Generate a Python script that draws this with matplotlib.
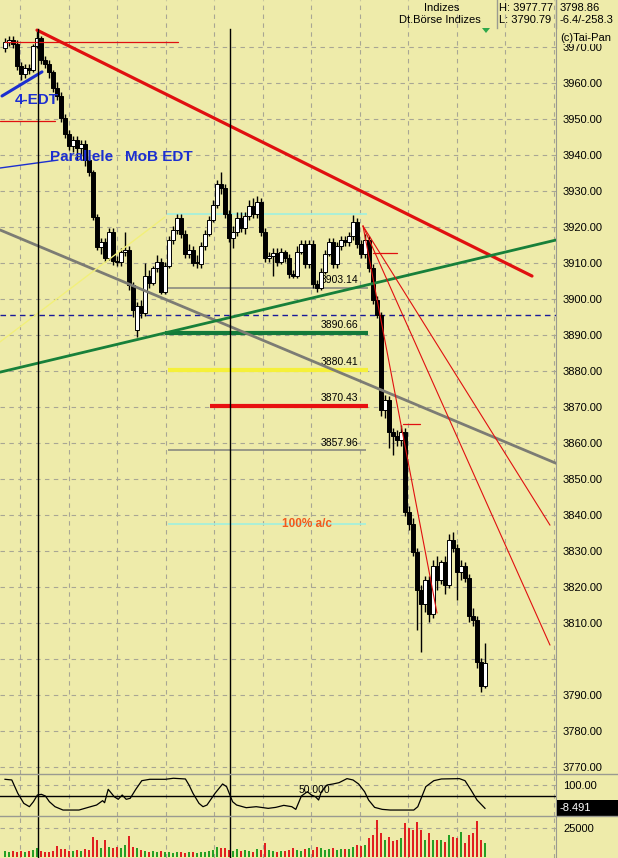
import matplotlib
matplotlib.use("Agg")
import matplotlib.pyplot as plt
from matplotlib.lines import Line2D
from matplotlib.patches import Rectangle, Polygon

plt.rcParams["font.family"] = ["Liberation Sans", "DejaVu Sans"]

# ---- intraday candles (one bar per slot) -----------------------------------
opens = [3969.7, 3971.4, 3971.9, 3970.8, 3964.7, 3962.5, 3964.2, 3963.6, 3970.3, 3972.5,
         3966.4, 3965.3, 3963.1, 3958.6, 3956.4, 3950.3, 3945.8, 3942.5, 3944.2, 3942.0,
         3943.1, 3938.6, 3935.3, 3922.8, 3914.5, 3915.8, 3911.4, 3918.6, 3910.6, 3910.3,
         3913.1, 3913.6, 3903.9, 3891.4, 3898.1, 3896.1, 3906.4, 3904.5, 3908.6, 3910.3,
         3902.0, 3909.2, 3916.4, 3919.2, 3922.5, 3918.1, 3912.5, 3913.6, 3910.0, 3909.7,
         3914.7, 3918.1, 3922.0, 3926.1, 3932.0, 3930.8, 3923.6, 3917.0, 3918.6, 3922.5,
         3919.7, 3923.1, 3925.8, 3923.6, 3927.0, 3918.6, 3911.4, 3912.0, 3912.8, 3910.3,
         3913.1, 3911.4, 3907.0, 3906.4, 3913.1, 3915.3, 3909.7, 3915.3, 3904.2, 3903.1,
         3907.5, 3912.5, 3915.8, 3909.7, 3914.7, 3916.4, 3915.8, 3917.5, 3921.4, 3915.3,
         3912.5, 3916.4, 3908.6, 3899.7, 3895.6, 3869.2, 3872.0, 3863.1, 3862.0, 3860.8,
         3863.1, 3840.8, 3837.5, 3829.7, 3819.2, 3815.3, 3822.0, 3812.5, 3825.8, 3822.0,
         3827.0, 3820.6, 3833.1, 3830.8, 3824.2, 3825.8, 3822.5, 3812.0, 3810.8, 3799.2,
         3792.5]
highs = [3972.5, 3973.1, 3973.1, 3971.9, 3965.8, 3965.3, 3965.3, 3970.8, 3974.7, 3973.1,
         3967.5, 3966.4, 3963.6, 3960.3, 3957.5, 3951.4, 3947.0, 3945.3, 3945.3, 3944.2,
         3944.2, 3939.7, 3935.8, 3923.6, 3917.0, 3917.0, 3919.7, 3919.7, 3912.0, 3914.2,
         3918.6, 3914.7, 3904.7, 3899.2, 3899.7, 3910.0, 3908.1, 3909.2, 3912.2, 3911.4,
         3910.3, 3917.5, 3920.3, 3923.6, 3923.6, 3919.2, 3915.3, 3914.7, 3912.2, 3915.8,
         3919.2, 3923.1, 3927.5, 3933.1, 3935.3, 3932.0, 3924.7, 3920.3, 3924.2, 3924.2,
         3924.2, 3927.5, 3928.1, 3928.6, 3928.1, 3919.7, 3913.1, 3914.2, 3914.2, 3914.2,
         3913.6, 3912.5, 3908.1, 3914.7, 3916.4, 3916.4, 3916.4, 3916.4, 3905.3, 3908.6,
         3913.6, 3917.0, 3917.0, 3915.8, 3917.5, 3917.5, 3918.6, 3923.3, 3922.5, 3916.4,
         3918.1, 3917.5, 3909.7, 3900.8, 3896.4, 3873.3, 3873.1, 3864.2, 3863.6, 3865.0,
         3864.2, 3842.5, 3839.2, 3830.8, 3820.6, 3823.1, 3823.1, 3827.5, 3828.6, 3827.5,
         3828.6, 3834.7, 3835.3, 3832.0, 3827.5, 3827.0, 3823.6, 3814.2, 3812.0, 3800.3,
         3804.5]
lows = [3968.6, 3970.3, 3969.7, 3963.6, 3960.8, 3961.4, 3962.5, 3963.1, 3969.7, 3965.3,
        3964.2, 3961.4, 3957.5, 3955.3, 3949.2, 3944.7, 3941.4, 3940.8, 3938.6, 3939.7,
        3937.0, 3934.2, 3922.0, 3913.6, 3912.5, 3910.3, 3910.8, 3909.5, 3909.2, 3909.2,
        3912.0, 3902.5, 3895.0, 3889.4, 3894.7, 3895.3, 3903.1, 3903.9, 3907.5, 3901.4,
        3901.4, 3908.6, 3915.3, 3918.1, 3917.0, 3911.4, 3911.4, 3909.2, 3908.6, 3908.6,
        3913.6, 3917.5, 3921.4, 3925.3, 3929.2, 3922.5, 3915.8, 3914.2, 3917.5, 3918.6,
        3918.1, 3922.0, 3922.5, 3922.5, 3917.5, 3910.3, 3910.3, 3906.4, 3909.2, 3909.7,
        3910.3, 3905.8, 3905.8, 3905.8, 3912.5, 3908.6, 3908.6, 3903.1, 3902.0, 3902.5,
        3907.0, 3912.0, 3908.6, 3908.6, 3913.6, 3914.7, 3914.7, 3916.4, 3914.2, 3911.4,
        3911.4, 3907.5, 3898.6, 3894.7, 3867.5, 3867.0, 3858.6, 3856.7, 3859.2, 3859.2,
        3839.7, 3835.8, 3828.6, 3808.1, 3802.0, 3813.1, 3810.3, 3811.4, 3819.2, 3820.8,
        3818.1, 3819.7, 3829.7, 3816.4, 3822.0, 3821.4, 3810.3, 3809.2, 3797.5, 3790.8,
        3792.0]
closes = [3971.4, 3971.9, 3970.8, 3964.7, 3962.5, 3964.2, 3963.6, 3970.3, 3972.5, 3966.4,
          3965.3, 3963.1, 3958.6, 3956.4, 3950.3, 3945.8, 3942.5, 3944.2, 3942.0, 3943.1,
          3938.6, 3935.3, 3922.8, 3914.5, 3915.8, 3911.4, 3918.6, 3910.6, 3910.3, 3913.1,
          3913.6, 3903.9, 3897.0, 3898.1, 3896.1, 3906.4, 3904.5, 3908.6, 3910.3, 3902.0,
          3909.2, 3916.4, 3919.2, 3922.5, 3918.1, 3912.5, 3913.6, 3910.0, 3910.3, 3914.7,
          3918.1, 3922.0, 3926.1, 3932.0, 3930.8, 3923.6, 3917.0, 3918.6, 3922.5, 3919.7,
          3923.1, 3925.8, 3923.6, 3927.0, 3918.6, 3911.4, 3912.0, 3912.8, 3910.3, 3913.1,
          3911.4, 3907.0, 3906.4, 3913.1, 3915.3, 3909.7, 3915.3, 3904.2, 3903.1, 3907.5,
          3912.5, 3915.8, 3909.7, 3914.7, 3916.4, 3915.8, 3917.5, 3921.4, 3915.3, 3912.5,
          3916.4, 3908.6, 3899.7, 3895.6, 3869.2, 3872.0, 3863.1, 3862.0, 3860.8, 3863.1,
          3840.8, 3837.5, 3829.7, 3819.2, 3815.3, 3822.0, 3812.5, 3825.8, 3822.0, 3827.0,
          3820.6, 3833.1, 3830.8, 3824.2, 3825.8, 3822.5, 3812.0, 3810.8, 3799.2, 3792.5,
          3798.9]
volumes = [5000, 4000, 5500, 4500, 5000, 4000, 5500, 6000, 7500, 5000,
           4000, 4500, 5000, 9500, 7000, 6500, 5000, 5500, 6000, 5000,
           7000, 6000, 17500, 15000, 7500, 14700, 9000, 7500, 8900, 7500,
           10300, 18300, 9000, 7500, 6000, 5500, 4500, 5000, 4000, 5000,
           4500, 4000, 3500, 4000, 4500, 3500, 4000, 4500, 3500, 4000,
           4500, 5000, 6000, 8900, 7500, 7500, 6000, 5500, 7000, 5000,
           6000, 5000, 4500, 7000, 6000, 11800, 6000, 5000, 4500, 5500,
           5000, 6000, 7500, 6000, 5500, 7000, 8000, 6000, 9000, 7500,
           6000, 6500, 8000, 6000, 6500, 7000, 6500, 9000, 10300, 9500,
           10300, 16100, 19000, 31900, 20400, 14700, 17500, 13500, 14700, 16100,
           29000, 24800, 23300, 29900, 23300, 14700, 20400, 14700, 14700, 14700,
           13200, 19000, 17500, 16100, 21800, 11800, 18800, 20400, 31000, 14700,
           11800]

# oscillator (sampled along the bar axis)
osc_x = [0, 1.7, 3.2, 4.7, 6.1, 7.1, 8.1, 9.1, 10.1, 11.1, 12.5, 14.5, 18.5, 21.4,
         22.9, 24.4, 24.9, 25.8, 27.3, 28.3, 29.3, 30.3, 31.3, 32.7, 34.2, 36.2, 40.1,
         42.1, 45.1, 46.0, 47.0, 48.5, 49.5, 50.5, 52.5, 54.4, 55.4, 56.9, 57.9, 60.3,
         62.8, 65.8, 67.7, 69.7, 71.7, 72.7, 74.1, 75.6, 76.6, 77.6, 78.4, 79.1, 80.5,
         82.0, 83.5, 85.5, 87.0, 88.4, 89.9, 90.9, 92.4, 94.3, 96.3, 102.2, 103.2, 105.2,
         107.2, 109.1, 113.6, 115.0, 116.5, 118.0, 120.0]
osc_v = [126.4, 123.3, 61.2, 14.7, -0.8, 22.3, 53.5, 56.6, 48.8, 22.3, -0.8, -16.3, -16.3, -0.8,
         7.0, 27.1, 17.7, 80.0, 45.7, 33.5, 53.5, 33.5, 38.1, 80.0, 120.0, 126.4, 126.4,
         131.2, 127.9, 100.0, 61.2, 14.7, -0.8, 7.0, 61.2, 104.7, 92.2, 22.3, 7.0, -5.4,
         -0.8, -8.5, -3.9, 5.4, -0.8, -13.2, 48.8, 68.9, 53.5, 45.7, 30.2, 68.9, 100.0,
         104.7, 110.7, 129.5, 123.3, 104.7, 68.9, 30.2, -3.9, -13.2, -16.3, -16.3, -0.8, 92.2,
         120.0, 127.9, 129.5, 120.0, 76.7, 30.2, -8.491]

price_levels = [3770, 3780, 3790, 3800, 3810, 3820, 3830, 3840, 3850, 3860, 3870,
                3880, 3890, 3900, 3910, 3920, 3930, 3940, 3950, 3960, 3970]
price_labels = ["3770.00", "3780.00", "3790.00", "", "3810.00", "3820.00", "3830.00",
                "3840.00", "3850.00", "3860.00", "3870.00", "3880.00", "3890.00",
                "3900.00", "3910.00", "3920.00", "3930.00", "3940.00", "3950.00",
                "3960.00", "3970.00"]

# horizontal retracement levels: (price, start bar, end bar, colour, width, label)
levels = [
    (3923.6, 40.5, 90.5, "#9FF0E0", 1.2, None),
    (3903.14, 40.75, 90.75, "#8A8A80", 1.2, "3903.14"),
    (3890.66, 40.0, 90.75, "#137A3A", 3.0, "3890.66"),
    (3880.41, 40.75, 90.75, "#F5F03A", 3.0, "3880.41"),
    (3870.43, 51.25, 90.75, "#E81010", 3.0, "3870.43"),
    (3857.96, 40.75, 90.25, "#8A8A80", 1.2, "3857.96"),
    (3837.6, 40.75, 90.25, "#9FF0E0", 1.2, None),
]

# drawn trend lines: (x0, p0, x1, p1, colour, width)
trend_lines = [
    (-1.25, 3919.2, 137.75, 3854.4, "#7C7C74", 2.0),   # grey channel
    (-1.25, 3888.1, 40.0, 3922.8, "#F2F07A", 1.0),     # faint yellow
    (8.0, 3974.7, 131.75, 3906.4, "#E01010", 2.3),     # main down trend
    (-1.25, 3879.7, 137.75, 3916.4, "#17803A", 2.0),   # green support
    (89.5, 3920.3, 136.25, 3837.2, "#E01010", 0.8),    # fan lines
    (89.5, 3920.3, 136.25, 3803.9, "#E01010", 0.8),
    (89.5, 3920.3, 108.0, 3812.8, "#E01010", 0.8),
    (92.0, 3912.8, 98.0, 3912.8, "#E01010", 0.9),
    (99.5, 3865.3, 103.75, 3865.3, "#E01010", 0.9),
    (0.0, 3971.4, 43.25, 3971.4, "#E01010", 0.9),
    (-1.25, 3949.4, 12.5, 3949.4, "#E01010", 0.9),
    (-0.75, 3956.4, 9.25, 3963.1, "#1C2FD0", 2.2),     # 4-EDT
    (-1.25, 3936.4, 13.25, 3938.6, "#1C2FD0", 1.0),    # Parallele
]
marker_bars = [8.25, 56.25]

BG = "#EEEBAA"
GRID = "#A8A694"
W, H = 618, 858
XLIM = (-1.25, 137.75)
GRID_X = [3.75 + 12.125 * k for k in range(12)]


def box(x0, y0, x1, y1):
    return [x0 / W, 1 - y1 / H, (x1 - x0) / W, (y1 - y0) / H]


def base_axes(rect):
    a = fig.add_axes(rect)
    a.set_facecolor(BG)
    a.set_xlim(*XLIM)
    a.set_xticks([])
    for s in ("top", "left", "bottom"):
        a.spines[s].set_visible(False)
    a.spines["right"].set_color("#9A9A90")
    for gx in GRID_X:
        a.axvline(gx, color=GRID, lw=0.8, ls=(0, (4, 4)), zorder=0)
    a.yaxis.tick_right()
    a.tick_params(axis="y", length=0, pad=5, labelsize=8)
    return a


fig = plt.figure(figsize=(W / 100, H / 100), dpi=100)
fig.patch.set_facecolor(BG)

# ---- price panel -----------------------------------------------------------
ax = base_axes(box(0, 0, 556, 774))
ax.set_ylim(3768.1, 3983.06)
ax.set_yticks(price_levels)
ax.set_yticklabels(price_labels)
for p in price_levels:
    ax.axhline(p, color=GRID, lw=0.8, ls=(0, (4, 4)), zorder=0)

ax.axhline(3895.6, color="#1A1A9A", lw=1.0, ls=(0, (4, 3)), zorder=1)

for price, x0, x1, col, lw, lab in levels:
    ax.plot([x0, x1], [price, price], color=col, lw=lw, solid_capstyle="butt", zorder=2)
    if lab:
        ax.text(88.25, price + 0.8, lab, ha="right", va="bottom", fontsize=7.5,
                color="black", zorder=2)
ax.text(75.5, 3837.6, "100% a/c", ha="center", va="center", fontsize=8.5,
        color="#F05A1E", fontweight="bold", zorder=2)

xs = list(range(len(closes)))
ax.vlines(xs, lows, highs, color="black", lw=1.0, zorder=3)
for i in xs:
    o, c = opens[i], closes[i]
    bottom = min(o, c)
    height = max(abs(c - o), 0.3)
    ax.bar(i, height, bottom=bottom, width=0.8,
           color="black" if c < o else "white", edgecolor="black", lw=0.7, zorder=3)

for x0, p0, x1, p1, col, lw in trend_lines:
    ax.plot([x0, x1], [p0, p1], color=col, lw=lw, zorder=4, solid_capstyle="round")

top_frac = (3975 - 3768.1) / (3983.06 - 3768.1)
for mb in marker_bars:
    ax.axvline(mb, ymax=top_frac, color="black", lw=1.0, zorder=5)

ax.text(2.5, 3955.3, "4-EDT", fontsize=11, fontweight="bold", color="#1C2FD0",
        va="center", ha="left", zorder=6)
ax.text(11.25, 3939.4, "Parallele", fontsize=11, fontweight="bold", color="#1C2FD0",
        va="center", ha="left", zorder=6)
ax.text(30.0, 3939.4, "MoB EDT", fontsize=11, fontweight="bold", color="#1C2FD0",
        va="center", ha="left", zorder=6)

# ---- oscillator panel ------------------------------------------------------
ax2 = base_axes(box(0, 774, 556, 816))
ax2.set_ylim(-44, 151)
ax2.set_yticks([100])
ax2.set_yticklabels(["100.00"])
ax2.axhline(100, color=GRID, lw=0.8, ls=(0, (4, 4)), zorder=0)
ax2.axhline(50, color="black", lw=1.0, zorder=1)
ax2.plot(osc_x, osc_v, color="black", lw=0.9, zorder=2)
ax2.text(77.25, 52, "50.000", fontsize=7.5, ha="center", va="bottom", zorder=3)
for mb in marker_bars:
    ax2.axvline(mb, color="black", lw=1.0, zorder=5)

# ---- volume panel ----------------------------------------------------------
ax3 = base_axes(box(0, 816, 556, 858))
ax3.set_ylim(-900, 35300)
ax3.set_yticks([25000])
ax3.set_yticklabels(["25000"])
ax3.axhline(25000, color=GRID, lw=0.8, ls=(0, (4, 4)), zorder=0)
vcols = ["#E02020" if c < o else "#25A025" for o, c in zip(opens, closes)]
ax3.bar(xs, volumes, width=0.4, color=vcols, zorder=2)
for mb in marker_bars:
    ax3.axvline(mb, color="black", lw=1.0, zorder=5)

# ---- panel separators, value box and header --------------------------------
for ypx in (774, 816):
    fig.add_artist(Line2D([0, 1], [1 - ypx / H] * 2, color="#9A9A90", lw=1.0))
fig.add_artist(Rectangle((557 / W, 1 - 816 / H), 61 / W, 16 / H, facecolor="black",
                         edgecolor="none"))
fig.text(560 / W, 1 - 808 / H, "-8.491", color="white", fontsize=8, va="center")

for xpx in (497, 556):
    fig.add_artist(Line2D([xpx / W] * 2, [1, 1 - 28 / H], color="#9A9A90", lw=1.0))
fig.text(442 / W, 1 - 8 / H, "Indizes", fontsize=8, ha="center", va="center")
fig.text(440 / W, 1 - 20 / H, "Dt.Börse Indizes", fontsize=8, ha="center", va="center")
fig.text(499 / W, 1 - 8 / H, "H: 3977.77", fontsize=8, va="center")
fig.text(499 / W, 1 - 20 / H, "L: 3790.79", fontsize=8, va="center")
fig.text(560 / W, 1 - 8 / H, "3798.86", fontsize=8, va="center")
fig.text(560 / W, 1 - 20 / H, "-6.4/-258.3", fontsize=8, va="center")
fig.text(560 / W, 1 - 38 / H, "(c)Tai-Pan", fontsize=8, va="center",
         bbox=dict(facecolor=BG, edgecolor="none", pad=0.5))
fig.add_artist(Polygon([(482 / W, 1 - 28 / H), (490 / W, 1 - 28 / H), (486 / W, 1 - 33 / H)],
                       closed=True, facecolor="#2EA84A", edgecolor="none"))

fig.savefig("out.png", dpi=100, facecolor=BG)
